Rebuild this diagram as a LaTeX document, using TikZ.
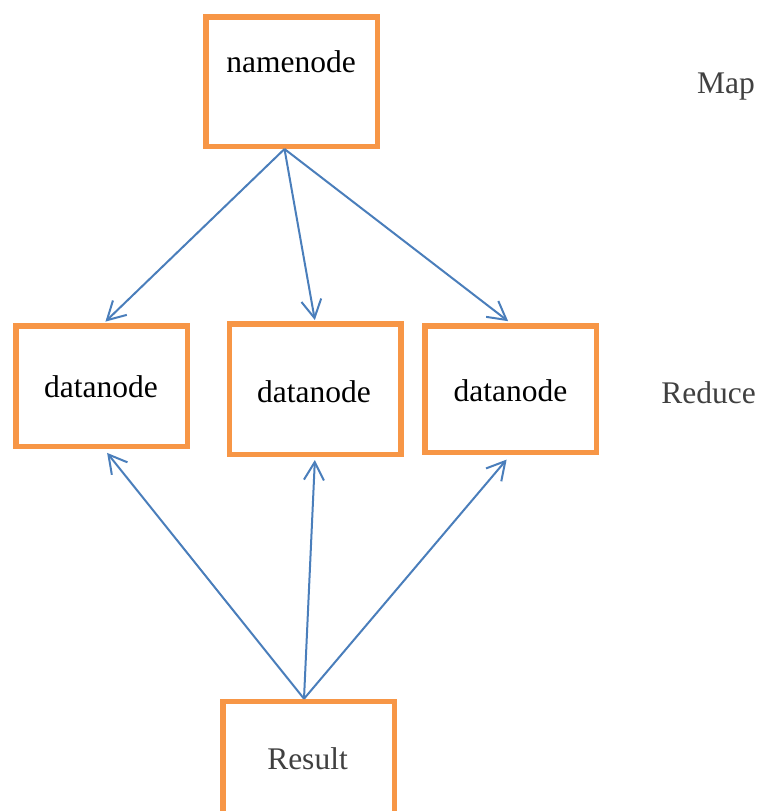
\documentclass[tikz,border=0pt]{standalone}
\usepackage{fontspec}
\setmainfont{Liberation Serif}
\usetikzlibrary{arrows.meta}
\definecolor{boxorange}{HTML}{F79646}
\definecolor{arrowblue}{HTML}{4A7EBB}
\definecolor{darktext}{HTML}{404040}
\begin{document}
\begin{tikzpicture}[x=1pt,y=-1pt,
  box/.style={draw=boxorange,line width=5.5pt,fill=white,minimum width=171.5pt,inner sep=0pt},
  lbl/.style={font=\fontsize{31.5}{36}\selectfont,inner sep=0pt,anchor=base},
  conn/.style={draw=arrowblue,line width=2pt,-{Straight Barb[length=18pt,width=20pt]}}]
\useasboundingbox (0,0) rectangle (758,811);
\node[box,minimum height=129.5pt] (nn) at (291.5,81.5) {};
\node[box,minimum height=120.5pt] (d1) at (101.5,386) {};
\node[box,minimum height=130.5pt] (d2) at (315,389) {};
\node[box,minimum height=126.5pt] (d3) at (510.5,389) {};
\node[box,minimum height=116pt] (res) at (308.5,759.5) {};
\node[lbl] (tnn) at (291,72) {namenode};
\node[lbl] (td1) at (101,397) {datanode};
\node[lbl] (td2) at (314,402) {datanode};
\node[lbl] (td3) at (510.5,401) {datanode};
\node[lbl,text=darktext] (tres) at (307.5,769) {Result};
\node[lbl,text=darktext] (tmap) at (726,93) {Map};
\node[lbl,text=darktext] (tred) at (708.5,403) {Reduce};
\draw[conn,shorten >=2pt] ([xshift=-7pt]nn.south) -- ([xshift=2.5pt]d1.north);
\draw[conn,shorten >=1pt] ([xshift=-7pt]nn.south) -- (d2.north);
\draw[conn,shorten >=3pt] ([xshift=-7pt]nn.south) -- (d3.north);
\draw[conn,shorten >=5pt] ([xshift=-4.5pt]res.north) -- ([xshift=2.5pt]d1.south);
\draw[conn,shorten >=3pt] ([xshift=-4.5pt]res.north) -- (d2.south);
\draw[conn,shorten >=6pt] ([xshift=-4.5pt]res.north) -- (d3.south);
\end{tikzpicture}
\end{document}
